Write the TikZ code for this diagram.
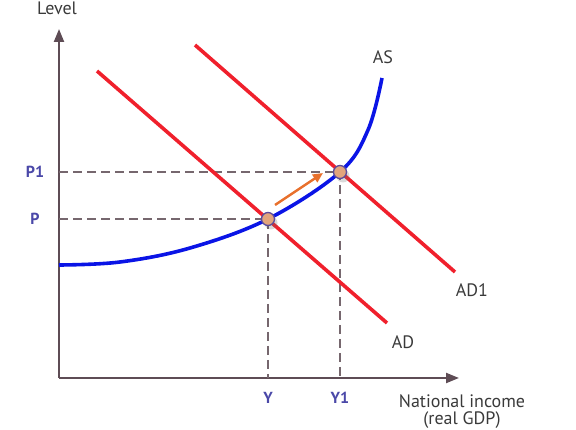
\documentclass[tikz,border=0pt]{standalone}
\usepackage{fontspec}
\setmainfont{PT Sans}
\usetikzlibrary{arrows.meta,shadows}

\definecolor{axisgray}{HTML}{5E4C55}
\definecolor{curvered}{HTML}{F0202C}
\definecolor{curveblue}{HTML}{0A14E6}
\definecolor{ticklabel}{HTML}{4A48A8}
\definecolor{dotfill}{HTML}{E2A47C}
\definecolor{dotedge}{HTML}{5A4C9C}
\definecolor{shiftorange}{HTML}{E8702C}
\definecolor{labelgray}{HTML}{3A3A3A}

\tikzset{
    axis/.style={axisgray,line width=2.2pt,-{Triangle[length=13pt,width=10pt]}},
    guide/.style={axisgray!85,line width=1.1pt,dash pattern=on 9pt off 5pt},
    demand/.style={curvered,line width=3.6pt},
    supply/.style={curveblue,line width=3.6pt},
    eqdot/.style={circle,fill=dotfill,draw=dotedge,line width=1.3pt,minimum size=13pt,inner sep=0pt,
        drop shadow={shadow xshift=3pt,shadow yshift=-4pt,opacity=0.25,fill=black!60}},
    tick/.style={text=ticklabel,font=\fontsize{16}{16}\selectfont\bfseries},
    curvelabel/.style={text=labelgray,font=\fontsize{18}{18}\selectfont},
}

\begin{document}
\begin{tikzpicture}[x=1pt,y=-1pt]
    \useasboundingbox (0,0) rectangle (576,430);

    % equilibrium points
    \coordinate (E0) at (268,219);
    \coordinate (E1) at (340,172);
    \coordinate (O) at (59,378);

    % axes
    \draw[axis] (O) -- (59,29);
    \draw[axis] (O) -- (459,378);
    \node[curvelabel,anchor=base,inner sep=1pt] at (57,15) {Level};
    \node[curvelabel] (inc) at (462,401) {National income};
    \node[curvelabel] at (462,420) {(real GDP)};

    % guide lines
    \draw[guide] (59,172) -- (E1) -- (340,378);
    \draw[guide] (59,219) -- (E0) -- (268,378);
    \node[tick] at (35,172) {P1};
    \node[tick] at (35,219) {P};
    \node[tick] at (268,398) {Y};
    \node[tick] at (340,398) {Y1};

    % demand curves
    \draw[demand] (97,71) -- (387,323);
    \draw[demand] (195,45) -- (455,272);
    \node[curvelabel] at (403,342) {AD};
    \node[curvelabel] at (472,290) {AD1};

    % supply curve
    \draw[supply] plot[smooth,tension=0.6] coordinates {(59,265) (120,262) (190,248) (268,219) (340,172) (368,130) (382,78)};
    \node[curvelabel] at (383,57) {AS};

    % shift
    \draw[shiftorange,line width=2.4pt,-{Triangle[length=10pt,width=9pt]}] (275,205) -- (323,173);
    \node[eqdot] at (E0) {};
    \node[eqdot] at (E1) {};
\end{tikzpicture}
\end{document}
